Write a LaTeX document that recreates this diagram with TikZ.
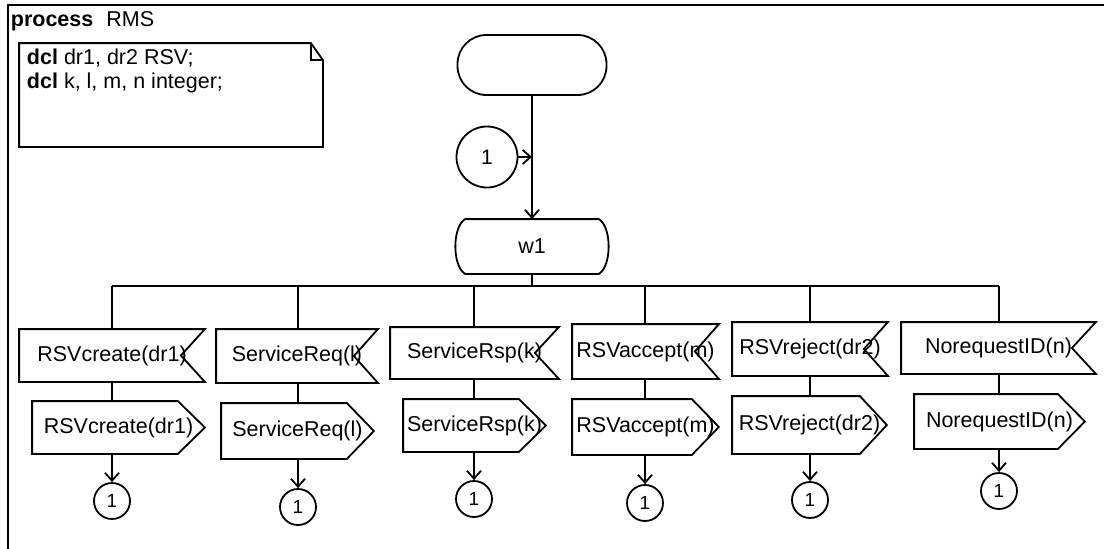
\documentclass[tikz,border=0pt]{standalone}
\usepackage{fontspec}
\setmainfont{Liberation Sans}
\usetikzlibrary{arrows.meta,calc}

\begin{document}
\begin{tikzpicture}[x=1pt,y=-1pt,line width=1.8pt,
	every node/.style={inner sep=0pt,font=\fontsize{21.5}{24}\selectfont},
	sigbox/.style n args={2}{rectangle,minimum width=#1,minimum height=#2},
	startbox/.style={rectangle,draw,rounded corners=29pt,minimum width=149,minimum height=60},
	conn/.style={circle,draw,minimum size=36,font=\fontsize{19}{19}\selectfont},
	flow/.style={-{Straight Barb[length=8pt,width=14pt]}}]
	\useasboundingbox (0,0) rectangle (1104,549);
	%% Frame ------
	\draw (8,549) -- (8,5) -- (1104,5);
	\node[anchor=base west] (title) at (10,26) {\textbf{process}\hspace{13pt}RMS};
	%% Declarations ------
	\node[sigbox={302}{102}] (decl) at (171,95) {};
	\node[anchor=north west,align=left,inner sep=0pt] (decltext) at ($(decl.north west)+(7,5)$)
		{\textbf{dcl} dr1, dr2 RSV;\\ \textbf{dcl} k, l, m, n integer;};
	\draw (decl.north west) -- ($(decl.north east)+(-12,0)$) -- ($(decl.north east)+(0,17)$)
		-- (decl.south east) -- (decl.south west) -- cycle;
	\draw ($(decl.north east)+(-12,0)$) -- ($(decl.north east)+(-12,17)$) -- ($(decl.north east)+(0,17)$);
	%% Start, connector and state ------
	\node[startbox] (start) at (532,65) {};
	\node[conn,minimum size=61,font=\fontsize{21}{21}\selectfont] (c0) at (487,157) {1};
	\node[sigbox={132}{53}] (w1) at (532,246.5) {w1};
	\draw (w1.north west) -- (w1.north east) .. controls ($(w1.north east)+(13,8)$) and ($(w1.south east)+(13,-8)$) .. (w1.south east)
		-- (w1.south west) .. controls ($(w1.south west)+(-13,-8)$) and ($(w1.north west)+(-13,8)$) .. (w1.north west) -- cycle;
	\draw[flow] (start.south) -- (w1.north);
	\draw[flow] (c0.east) -- (c0.east -| start.south);
	%% Branches ------
	\coordinate (b1) at (112,286);
	\coordinate (b2) at (298,286);
	\coordinate (b3) at (474,286);
	\coordinate (b4) at (645,286);
	\coordinate (b5) at (810,286);
	\coordinate (b6) at (999,286);
	\draw (w1.south) -- (w1.south |- b1);
	\draw (b1) -- (b6);
	%% Inputs ------
	\node[sigbox={184}{51}] (in1) at (112,355.5) {RSVcreate(dr1)};
	\node[sigbox={160}{52}] (in2) at (297,356) {ServiceReq(l)};
	\node[sigbox={167}{50}] (in3) at (474.5,353) {ServiceRsp(k)};
	\node[sigbox={145}{53}] (in4) at (645.5,351.5) {RSVaccept(m)};
	\node[sigbox={154}{52}] (in5) at (810,349) {RSVreject(dr2)};
	\node[sigbox={193}{50}] (in6) at (998.5,348) {NorequestID(n)};
	\foreach \n in {in1,in2,in3,in4,in5,in6}
		\draw (\n.north west) -- (\n.north east) -- ($(\n.east)+(-24,0)$) -- (\n.south east) -- (\n.south west) -- cycle;
	%% Outputs ------
	\node[sigbox={171}{51}] (out1) at (118.5,427.5) {RSVcreate(dr1)};
	\node[sigbox={151}{54}] (out2) at (297.5,431) {ServiceReq(l)};
	\node[sigbox={141}{51}] (out3) at (474.5,425.5) {ServiceRsp(k)};
	\node[sigbox={145}{54}] (out4) at (645.5,427) {RSVaccept(m)};
	\node[sigbox={153}{56}] (out5) at (809.5,425) {RSVreject(dr2)};
	\node[sigbox={169}{53}] (out6) at (999.5,421.5) {NorequestID(n)};
	\foreach \n in {out1,out2,out3,out4,out5,out6}
		\draw (\n.north west) -- ($(\n.north east)+(-27,0)$) -- (\n.east) -- ($(\n.south east)+(-27,0)$) -- (\n.south west) -- cycle;
	%% Connectors ------
	\node[conn] (c1) at (112,501) {1};
	\node[conn] (c2) at (298,507) {1};
	\node[conn] (c3) at (474,499) {1};
	\node[conn] (c4) at (645,503) {1};
	\node[conn] (c5) at (810,500) {1};
	\node[conn] (c6) at (999,491) {1};
	%% Edges ---------
	\draw (b1) -- (b1 |- in1.north);
	\draw (b2) -- (b2 |- in2.north);
	\draw (b3) -- (b3 |- in3.north);
	\draw (b4) -- (b4 |- in4.north);
	\draw (b5) -- (b5 |- in5.north);
	\draw (b6) -- (b6 |- in6.north);
	\draw (in1.south -| b1) -- (out1.north -| b1);
	\draw (in2.south -| b2) -- (out2.north -| b2);
	\draw (in3.south -| b3) -- (out3.north -| b3);
	\draw (in4.south -| b4) -- (out4.north -| b4);
	\draw (in5.south -| b5) -- (out5.north -| b5);
	\draw (in6.south -| b6) -- (out6.north -| b6);
	\draw[flow] (out1.south -| b1) -- (c1.north);
	\draw[flow] (out2.south -| b2) -- (c2.north);
	\draw[flow] (out3.south -| b3) -- (c3.north);
	\draw[flow] (out4.south -| b4) -- (c4.north);
	\draw[flow] (out5.south -| b5) -- (c5.north);
	\draw[flow] (out6.south -| b6) -- (c6.north);
\end{tikzpicture}
\end{document}
